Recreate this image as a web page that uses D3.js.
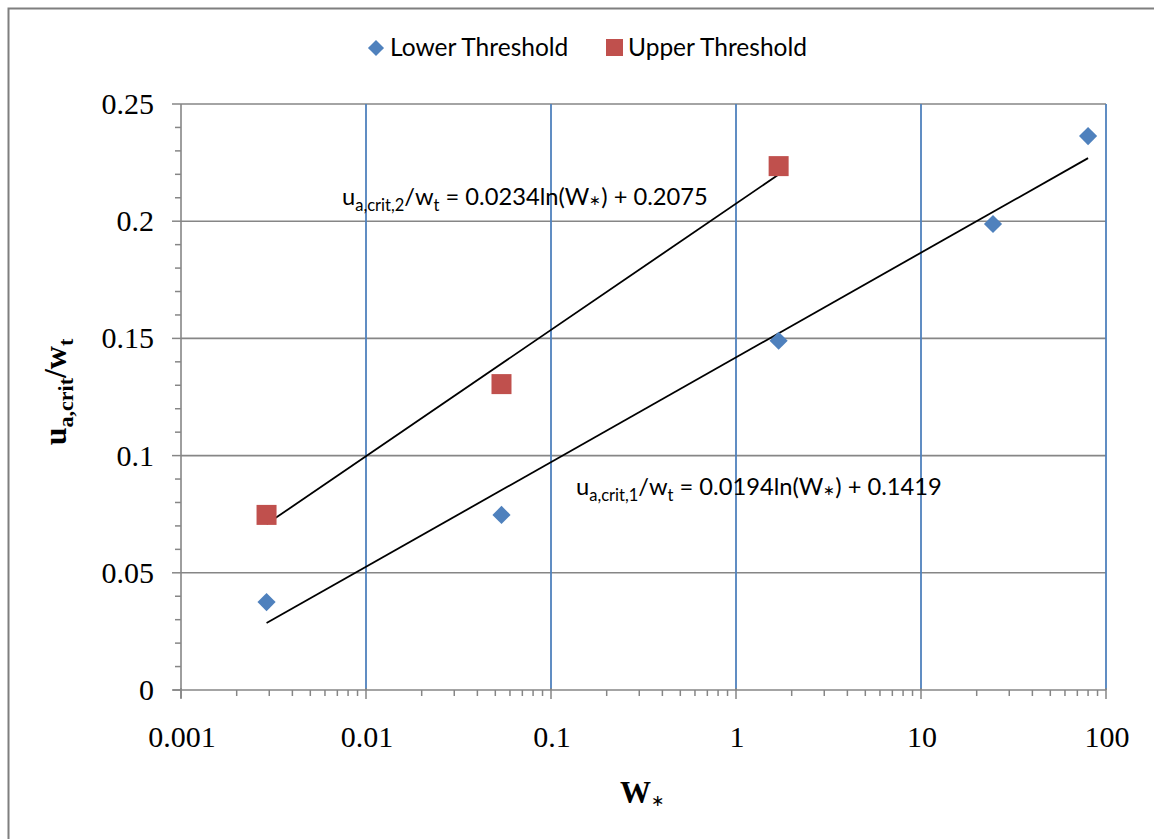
<!DOCTYPE html>
<html>
<head>
<meta charset="utf-8">
<script src="https://cdn.jsdelivr.net/npm/d3@7"></script>
<style>
  body { margin: 0; background: #fff; }
  #chart { width: 1154px; height: 839px; }
  .tick-label { font-family: "Liberation Serif", "Times New Roman", serif; font-size: 30px; fill: #000; }
  .legend-text { font-family: Lato, "Noto Sans", sans-serif; font-size: 24.5px; fill: #000; }
  .eq { font-family: Lato, "Noto Sans", sans-serif; font-size: 23.7px; fill: #000; }
</style>
</head>
<body>
<div id="chart"></div>
<script>
// data
const lowerX = [0.0029, 0.054, 1.7, 24.5, 80];
const lowerY = [0.0375, 0.0747, 0.149, 0.1988, 0.2363];
const upperX = [0.0029, 0.054, 1.7];
const upperY = [0.0747, 0.1305, 0.2235];

// trendline coefficients (y = a ln(x) + b)
const lowerFit = {a: 0.0194, b: 0.1419};
const upperFit = {a: 0.0234, b: 0.2075};

const xTicks = [0.001, 0.01, 0.1, 1, 10, 100];
const xTickLabels = ["0.001", "0.01", "0.1", "1", "10", "100"];
const yTicks = [0, 0.05, 0.1, 0.15, 0.2, 0.25];
const yTickLabels = ["0", "0.05", "0.1", "0.15", "0.2", "0.25"];

const blue = "#4f81bd";
const red = "#c0504d";
const gridGray = "#868686";

let margin = {top: 104, right: 48, bottom: 149, left: 181};
let width = 1154 - margin.left - margin.right;
let height = 839 - margin.top - margin.bottom;

let root = d3.select("#chart").append("svg")
    .attr("width", 1154)
    .attr("height", 839);

// outer chart frame
root.append("path")
    .attr("d", "M8.5,839 L8.5,8.5 L1154,8.5")
    .attr("fill", "none")
    .attr("stroke", "#7f7f7f")
    .attr("stroke-width", 2);

let svg = root.append("g")
    .attr("transform", "translate(" + margin.left + "," + margin.top + ")");

let x = d3.scaleLog().domain([0.001, 100]).range([0, width]);
let y = d3.scaleLinear().domain([0, 0.25]).range([height, 0]);

// horizontal gridlines
svg.selectAll(".hgrid")
    .data(yTicks.slice(1))
    .enter().append("line")
    .attr("x1", 0).attr("x2", width)
    .attr("y1", d => y(d)).attr("y2", d => y(d))
    .attr("stroke", gridGray)
    .attr("stroke-width", 1.6);

// vertical gridlines
svg.selectAll(".vgrid")
    .data(xTicks.slice(1))
    .enter().append("line")
    .attr("x1", d => x(d)).attr("x2", d => x(d))
    .attr("y1", 0).attr("y2", height)
    .attr("stroke", blue)
    .attr("stroke-width", 1.8);

// minor ticks
let xMinor = [];
for (let i = 0; i < xTicks.length - 1; i++) {
    for (let m = 2; m <= 9; m++) xMinor.push(xTicks[i] * m);
}
let yMinor = d3.range(0, 25).map(i => i / 100).filter(d => Math.round(d * 100) % 5 !== 0);

let xAxis = svg.append("g").attr("transform", "translate(0," + height + ")");
xAxis.selectAll(".minor").data(xMinor).enter().append("line")
    .attr("x1", d => x(d)).attr("x2", d => x(d))
    .attr("y1", 0).attr("y2", 6)
    .attr("stroke", gridGray).attr("stroke-width", 1.5);
xAxis.selectAll(".major").data(xTicks).enter().append("line")
    .attr("x1", d => x(d)).attr("x2", d => x(d))
    .attr("y1", -2).attr("y2", 9)
    .attr("stroke", gridGray).attr("stroke-width", 1.5);
xAxis.append("line")
    .attr("x1", -8).attr("x2", width).attr("y1", 0).attr("y2", 0)
    .attr("stroke", gridGray).attr("stroke-width", 1.6);
xAxis.selectAll(".tick-label").data(xTicks).enter().append("text")
    .attr("class", "tick-label")
    .attr("x", d => x(d) + 1)
    .attr("y", 57)
    .attr("text-anchor", "middle")
    .text((d, i) => xTickLabels[i]);

let yAxis = svg.append("g");
yAxis.selectAll(".minor").data(yMinor).enter().append("line")
    .attr("x1", -6).attr("x2", 0)
    .attr("y1", d => y(d)).attr("y2", d => y(d))
    .attr("stroke", gridGray).attr("stroke-width", 1.5);
yAxis.selectAll(".major").data(yTicks).enter().append("line")
    .attr("x1", -9).attr("x2", 0)
    .attr("y1", d => y(d)).attr("y2", d => y(d))
    .attr("stroke", gridGray).attr("stroke-width", 1.5);
yAxis.append("line")
    .attr("x1", 0).attr("x2", 0).attr("y1", 0).attr("y2", height + 8)
    .attr("stroke", gridGray).attr("stroke-width", 1.6);
yAxis.selectAll(".tick-label").data(yTicks).enter().append("text")
    .attr("class", "tick-label")
    .attr("x", -27)
    .attr("y", d => y(d) + 10)
    .attr("text-anchor", "end")
    .text((d, i) => yTickLabels[i]);

// trendlines
function fitLine(fit, xs) {
    let lo = d3.min(xs), hi = d3.max(xs);
    return [lo, hi].map(v => [x(v), y(fit.a * Math.log(v) + fit.b)]);
}
let line = d3.line();
svg.append("path")
    .attr("d", line(fitLine(lowerFit, lowerX)))
    .attr("stroke", "#000").attr("stroke-width", 1.8).attr("fill", "none");
svg.append("path")
    .attr("d", line(fitLine(upperFit, upperX)))
    .attr("stroke", "#000").attr("stroke-width", 1.8).attr("fill", "none");

// markers
let diamond = d3.symbol().type(d3.symbolDiamond2).size(210);
svg.selectAll(".lower")
    .data(lowerX.map((v, i) => [v, lowerY[i]]))
    .enter().append("path")
    .attr("d", diamond)
    .attr("transform", d => "translate(" + x(d[0]) + "," + y(d[1]) + ")")
    .attr("fill", blue);

svg.selectAll(".upper")
    .data(upperX.map((v, i) => [v, upperY[i]]))
    .enter().append("rect")
    .attr("x", d => x(d[0]) - 10)
    .attr("y", d => y(d[1]) - 10)
    .attr("width", 20).attr("height", 20)
    .attr("fill", red);

// equations
function equation(g, sub, coeffA, coeffB) {
    let t = g.append("text").attr("class", "eq");
    t.append("tspan").text("u");
    t.append("tspan").attr("dy", 6).attr("font-size", 16.5).text(sub);
    t.append("tspan").attr("dy", -6).text("/w");
    t.append("tspan").attr("dy", 6).attr("font-size", 16.5).text("t");
    t.append("tspan").attr("dy", -6).text(" = " + coeffA + "ln(W");
    t.append("tspan").attr("font-size", 14).text("\u2217");
    t.append("tspan").text(") + " + coeffB);
    return t;
}
equation(root.append("g").attr("transform", "translate(342,205)"), "a,crit,2", upperFit.a, upperFit.b);
equation(root.append("g").attr("transform", "translate(576,495)"), "a,crit,1", lowerFit.a, lowerFit.b);

// axis titles
let yTitle = root.append("text")
    .attr("transform", "translate(66,392) rotate(-90)")
    .attr("text-anchor", "middle")
    .attr("font-family", "Liberation Serif, serif")
    .attr("font-weight", "bold")
    .attr("font-size", 32);
yTitle.append("tspan").text("u");
yTitle.append("tspan").attr("dy", 7).attr("font-size", 22).text("a,crit");
yTitle.append("tspan").attr("dy", -7).text("/w");
yTitle.append("tspan").attr("dy", 7).attr("font-size", 22).text("t");

let xTitle = root.append("text")
    .attr("x", 642).attr("y", 803)
    .attr("text-anchor", "middle")
    .attr("font-family", "Liberation Serif, serif")
    .attr("font-weight", "bold")
    .attr("font-size", 31);
xTitle.append("tspan").text("W");
xTitle.append("tspan").attr("dy", 3).attr("font-size", 16).attr("font-weight", "normal").text("\u2217");

// legend
let legend = root.append("g");
legend.append("path")
    .attr("d", d3.symbol().type(d3.symbolDiamond2).size(165))
    .attr("transform", "translate(376,48)")
    .attr("fill", blue);
legend.append("text").attr("class", "legend-text")
    .attr("x", 390).attr("y", 56).text("Lower Threshold");
legend.append("rect")
    .attr("x", 606).attr("y", 39).attr("width", 17).attr("height", 17)
    .attr("fill", red);
legend.append("text").attr("class", "legend-text")
    .attr("x", 628).attr("y", 56).text("Upper Threshold");
</script>
</body>
</html>
